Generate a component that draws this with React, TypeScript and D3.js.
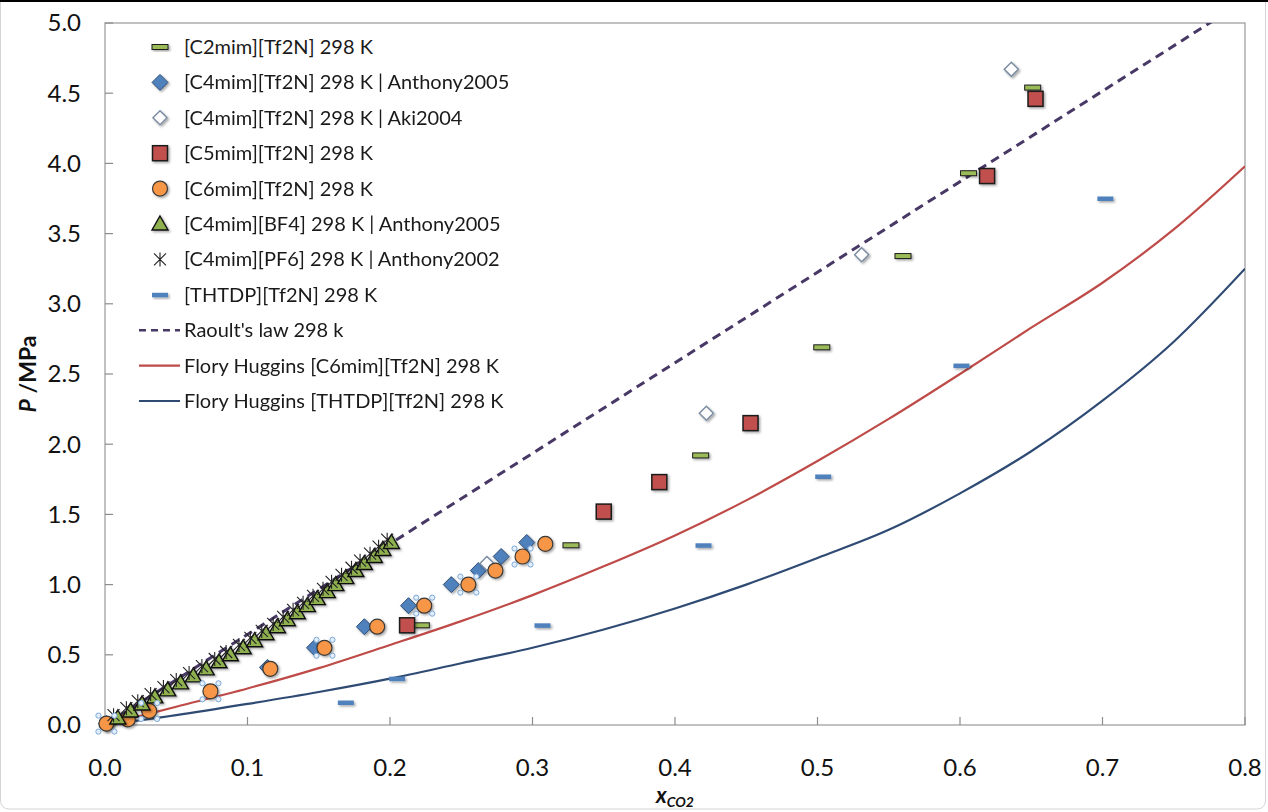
import * as React from 'react';
import * as d3 from 'd3';

// [C2mim][Tf2N] 298 K
const c2mimX = [0.222, 0.327, 0.418, 0.503, 0.560, 0.606, 0.651];
const c2mimP = [0.71, 1.28, 1.92, 2.69, 3.34, 3.93, 4.54];
// [C4mim][Tf2N] 298 K | Anthony2005
const c4AnthonyX = [0.001, 0.114, 0.147, 0.182, 0.213, 0.243, 0.262, 0.278, 0.296];
const c4AnthonyP = [0.01, 0.41, 0.55, 0.70, 0.85, 1.00, 1.10, 1.20, 1.30];
// [C4mim][Tf2N] 298 K | Aki2004
const c4AkiX = [0.268, 0.422, 0.531, 0.636];
const c4AkiP = [1.15, 2.22, 3.35, 4.67];
// [C5mim][Tf2N] 298 K
const c5mimX = [0.212, 0.350, 0.389, 0.453, 0.619, 0.653];
const c5mimP = [0.71, 1.52, 1.73, 2.15, 3.91, 4.46];
// [C6mim][Tf2N] 298 K
const c6mimX = [0.001, 0.016, 0.031, 0.074, 0.116, 0.154, 0.191, 0.224, 0.255, 0.274, 0.293, 0.309];
const c6mimP = [0.01, 0.04, 0.10, 0.24, 0.40, 0.55, 0.70, 0.85, 1.00, 1.10, 1.20, 1.29];
const c6mimSelected = [true, false, true, true, false, true, false, true, true, false, true, false];
// [C4mim][BF4] 298 K | Anthony2005
const bf4X = [0.009, 0.018, 0.026, 0.035, 0.044, 0.053, 0.062, 0.071, 0.080, 0.088, 0.097, 0.105, 0.113,
    0.121, 0.128, 0.135, 0.142, 0.149, 0.156, 0.162, 0.169, 0.176, 0.182, 0.189, 0.195, 0.201];
const bf4P = [0.05, 0.10, 0.15, 0.20, 0.25, 0.30, 0.35, 0.40, 0.45, 0.50, 0.55, 0.60, 0.65,
    0.70, 0.75, 0.80, 0.85, 0.90, 0.95, 1.00, 1.05, 1.10, 1.15, 1.20, 1.25, 1.30];
// [C4mim][PF6] 298 K | Anthony2002
const pf6X = [0.006, 0.015, 0.023, 0.032, 0.041, 0.050, 0.059, 0.068, 0.077, 0.085, 0.094, 0.102, 0.110,
    0.118, 0.125, 0.132, 0.139, 0.146, 0.153, 0.159, 0.166, 0.173, 0.179, 0.186, 0.192, 0.198];
const pf6P = [0.07, 0.12, 0.17, 0.22, 0.27, 0.32, 0.37, 0.42, 0.47, 0.52, 0.57, 0.62, 0.67,
    0.72, 0.77, 0.82, 0.87, 0.92, 0.97, 1.02, 1.07, 1.12, 1.17, 1.22, 1.27, 1.32];
// [THTDP][Tf2N] 298 K
const thtdpX = [0.169, 0.205, 0.307, 0.420, 0.504, 0.601, 0.702];
const thtdpP = [0.16, 0.33, 0.71, 1.28, 1.77, 2.56, 3.75];
// Raoult's law 298 k
const raoultX = [0, 0.8];
const raoultP = [0, 5.16];
// Flory Huggins curves
const fhX = [0, 0.05, 0.1, 0.15, 0.2, 0.25, 0.3, 0.35, 0.4, 0.45, 0.5, 0.55, 0.6, 0.65, 0.7, 0.75, 0.8];
const fhC6P = [0, 0.13, 0.26, 0.405, 0.57, 0.74, 0.925, 1.13, 1.35, 1.6, 1.88, 2.18, 2.5, 2.83, 3.15, 3.53, 3.98];
const fhThtdpP = [0, 0.07, 0.15, 0.235, 0.33, 0.44, 0.55, 0.68, 0.83, 1.0, 1.19, 1.39, 1.65, 1.95, 2.31, 2.73, 3.25];

const xTicks = [0, 0.1, 0.2, 0.3, 0.4, 0.5, 0.6, 0.7, 0.8];
const yTicks = [0, 0.5, 1, 1.5, 2, 2.5, 3, 3.5, 4, 4.5, 5];

const legendNames = [
    '[C2mim][Tf2N] 298 K',
    '[C4mim][Tf2N] 298 K | Anthony2005',
    '[C4mim][Tf2N] 298 K | Aki2004',
    '[C5mim][Tf2N] 298 K',
    '[C6mim][Tf2N] 298 K',
    '[C4mim][BF4] 298 K | Anthony2005',
    '[C4mim][PF6] 298 K | Anthony2002',
    '[THTDP][Tf2N] 298 K',
    "Raoult's law 298 k",
    'Flory Huggins [C6mim][Tf2N] 298 K',
    'Flory Huggins [THTDP][Tf2N] 298 K'
];

const FONT = 'Lato, "Liberation Sans", sans-serif';
const W = 1268, H = 812;
const margin = {left: 105, top: 23, right: 23, bottom: 87};

const zip = (xs: number[], ys: number[]) => xs.map((x, i) => ({x: x, p: ys[i]}));

function drawMarker(g: any, kind: string) {
    if (kind === 'c2') {
        g.append('rect').attr('x', -8).attr('y', -2.5).attr('width', 16).attr('height', 5)
            .attr('fill', '#9BBB59').attr('stroke', '#1d1d1d').attr('stroke-width', 1);
    } else if (kind === 'diamond') {
        g.append('path').attr('d', 'M0,-8L8,0L0,8L-8,0Z')
            .attr('fill', '#4F81BD').attr('stroke', '#2c4d75').attr('stroke-width', 1);
    } else if (kind === 'open') {
        g.append('path').attr('d', 'M0,-7L7,0L0,7L-7,0Z')
            .attr('fill', '#fff').attr('stroke', '#7d8ea3').attr('stroke-width', 1.5);
    } else if (kind === 'square') {
        g.append('rect').attr('x', -7.5).attr('y', -7.5).attr('width', 15).attr('height', 15)
            .attr('fill', '#C0504D').attr('stroke', '#1a1a1a').attr('stroke-width', 1.5);
    } else if (kind === 'circle') {
        g.append('circle').attr('r', 7.5)
            .attr('fill', '#F79646').attr('stroke', '#3a3a3a').attr('stroke-width', 1.2);
    } else if (kind === 'triangle') {
        g.append('path').attr('d', 'M0,-8L8,6L-8,6Z')
            .attr('fill', '#8FB04F').attr('stroke', '#111').attr('stroke-width', 1.4);
    } else if (kind === 'star') {
        g.append('path').attr('d', 'M-6,-6L6,6M-6,6L6,-6M0,-7L0,7')
            .attr('fill', 'none').attr('stroke', '#222').attr('stroke-width', 1.1);
    } else if (kind === 'thtdp') {
        g.append('rect').attr('x', -8).attr('y', -2).attr('width', 16).attr('height', 4.5)
            .attr('fill', '#4F81BD');
    }
}

class App extends React.Component<any, any> {
    svgRef: any = React.createRef();

    componentDidMount() {
        this.createChart();
    }

    componentDidUpdate(): void {
        this.createChart();
    }

    createChart() {
        let svg = d3.select(this.svgRef.current);
        svg.selectAll('*').remove();

        let xScale = d3.scaleLinear().domain([0, 0.8]).range([margin.left, W - margin.right]);
        let yScale = d3.scaleLinear().domain([0, 5]).range([H - margin.bottom, margin.top]);
        let x0 = margin.left, x1 = W - margin.right, y0 = H - margin.bottom, y1 = margin.top;

        let defs = svg.append('defs');
        let filt = defs.append('filter').attr('id', 'shadow').attr('x', '-50%').attr('y', '-50%')
            .attr('width', '200%').attr('height', '200%');
        filt.append('feDropShadow').attr('dx', 1.5).attr('dy', 1.5).attr('stdDeviation', 1)
            .attr('flood-color', '#000').attr('flood-opacity', 0.35);
        defs.append('clipPath').attr('id', 'plotClip').append('rect')
            .attr('x', x0).attr('y', y1).attr('width', x1 - x0).attr('height', y0 - y1);

        // outer chart frame
        svg.append('rect').attr('x', 0.5).attr('y', -20).attr('width', W - 3).attr('height', H - 3 + 20)
            .attr('rx', 8).attr('fill', '#fff').attr('stroke', '#d4d4d4');
        svg.append('line').attr('x1', 0).attr('x2', W).attr('y1', 1).attr('y2', 1)
            .attr('stroke', '#000').attr('stroke-width', 2);

        // plot area border
        svg.append('rect').attr('x', x0).attr('y', y1).attr('width', x1 - x0).attr('height', y0 - y1)
            .attr('fill', 'none').attr('stroke', '#a0a0a0').attr('stroke-width', 1.3);

        // ticks (inside)
        svg.append('g').selectAll('line').data(xTicks).enter().append('line')
            .attr('x1', d => xScale(d)).attr('x2', d => xScale(d))
            .attr('y1', y0).attr('y2', y0 - 8).attr('stroke', '#8c8c8c').attr('stroke-width', 1.2);
        svg.append('g').selectAll('line').data(yTicks).enter().append('line')
            .attr('x1', x0).attr('x2', x0 + 8)
            .attr('y1', d => yScale(d)).attr('y2', d => yScale(d)).attr('stroke', '#8c8c8c').attr('stroke-width', 1.2);

        svg.append('g').selectAll('text').data(xTicks).enter().append('text')
            .attr('x', d => xScale(d)).attr('y', y0 + 51)
            .attr('text-anchor', 'middle').style('font-family', FONT).style('font-size', '24px')
            .attr('fill', '#111').text(d => d3.format('.1f')(d));
        svg.append('g').selectAll('text').data(yTicks).enter().append('text')
            .attr('x', 81).attr('y', d => yScale(d)).attr('dy', '0.35em')
            .attr('text-anchor', 'end').style('font-family', FONT).style('font-size', '24px')
            .attr('fill', '#111').text(d => d3.format('.1f')(d));

        // axis titles
        let xt = svg.append('text').attr('x', xScale(0.4)).attr('y', 803).attr('text-anchor', 'middle')
            .style('font-family', FONT).style('font-weight', 'bold').style('font-style', 'italic').attr('fill', '#111');
        xt.append('tspan').style('font-size', '22px').text('x');
        xt.append('tspan').style('font-size', '14px').attr('dy', 4).text('CO2');

        let yt = svg.append('text').attr('transform', 'translate(36,' + yScale(2.5) + ') rotate(-90)')
            .attr('text-anchor', 'middle').style('font-family', FONT).style('font-weight', 'bold')
            .style('font-size', '23px').attr('fill', '#111');
        yt.append('tspan').style('font-style', 'italic').text('P');
        yt.append('tspan').text(' /MPa');

        let plot = svg.append('g').attr('clip-path', 'url(#plotClip)');
        let line = d3.line<any>().x(d => xScale(d.x)).y(d => yScale(d.p));
        let curve = d3.line<any>().x(d => xScale(d.x)).y(d => yScale(d.p)).curve(d3.curveMonotoneX);

        plot.append('path').datum(zip(raoultX, raoultP)).attr('d', line)
            .attr('fill', 'none').attr('stroke', '#483866').attr('stroke-width', 3).attr('stroke-dasharray', '9,6');
        plot.append('path').datum(zip(fhX, fhC6P)).attr('d', curve)
            .attr('fill', 'none').attr('stroke', '#BE4B48').attr('stroke-width', 2.2);
        plot.append('path').datum(zip(fhX, fhThtdpP)).attr('d', curve)
            .attr('fill', 'none').attr('stroke', '#2F4B74').attr('stroke-width', 2.2);

        let series = [
            {kind: 'c2', data: zip(c2mimX, c2mimP)},
            {kind: 'diamond', data: zip(c4AnthonyX, c4AnthonyP)},
            {kind: 'open', data: zip(c4AkiX, c4AkiP)},
            {kind: 'square', data: zip(c5mimX, c5mimP)},
            {kind: 'circle', data: zip(c6mimX, c6mimP)},
            {kind: 'triangle', data: zip(bf4X, bf4P)},
            {kind: 'star', data: zip(pf6X, pf6P)},
            {kind: 'thtdp', data: zip(thtdpX, thtdpP)}
        ];

        let marks = svg.append('g');
        series.forEach(function(s) {
            let g = marks.append('g').attr('filter', s.kind === 'star' ? null : 'url(#shadow)');
            s.data.forEach(function(d) {
                let m = g.append('g').attr('transform', 'translate(' + xScale(d.x) + ',' + yScale(d.p) + ')');
                drawMarker(m, s.kind);
            });
        });

        // selection handles on some [C6mim] points
        let handles = svg.append('g');
        zip(c6mimX, c6mimP).forEach(function(d, i) {
            if (!c6mimSelected[i]) {
                return;
            }
            [[-8, -8], [8, -8], [-8, 8], [8, 8]].forEach(function(o) {
                handles.append('circle').attr('cx', xScale(d.x) + o[0]).attr('cy', yScale(d.p) + o[1]).attr('r', 2.6)
                    .attr('fill', '#e4eefa').attr('stroke', '#7aa7d6').attr('stroke-width', 1);
            });
        });

        // legend
        let legend = svg.append('g');
        let kinds = ['c2', 'diamond', 'open', 'square', 'circle', 'triangle', 'star', 'thtdp'];
        legendNames.forEach(function(name, i) {
            let yy = 47 + i * 35.4;
            if (i < kinds.length) {
                let m = legend.append('g').attr('transform', 'translate(160,' + yy + ')');
                if (kinds[i] !== 'star') {
                    m.attr('filter', 'url(#shadow)');
                }
                drawMarker(m, kinds[i]);
            } else {
                let l = legend.append('line').attr('x1', 139).attr('x2', 180).attr('y1', yy).attr('y2', yy)
                    .attr('stroke-width', i === 8 ? 2.5 : 2.2);
                if (i === 8) {
                    l.attr('stroke', '#483866').attr('stroke-dasharray', '7,5');
                } else if (i === 9) {
                    l.attr('stroke', '#BE4B48');
                } else {
                    l.attr('stroke', '#2F4B74');
                }
            }
            legend.append('text').attr('x', 184).attr('y', yy).attr('dy', '0.35em')
                .style('font-family', FONT).style('font-size', '20px').attr('fill', '#1a1a1a').text(name);
        });
    }

    render() {
        return (
            <svg ref={this.svgRef} width={W} height={H}
                 style={{position: 'absolute', left: 0, top: 0, background: '#fff'}}/>
        );
    }
}

export default App
